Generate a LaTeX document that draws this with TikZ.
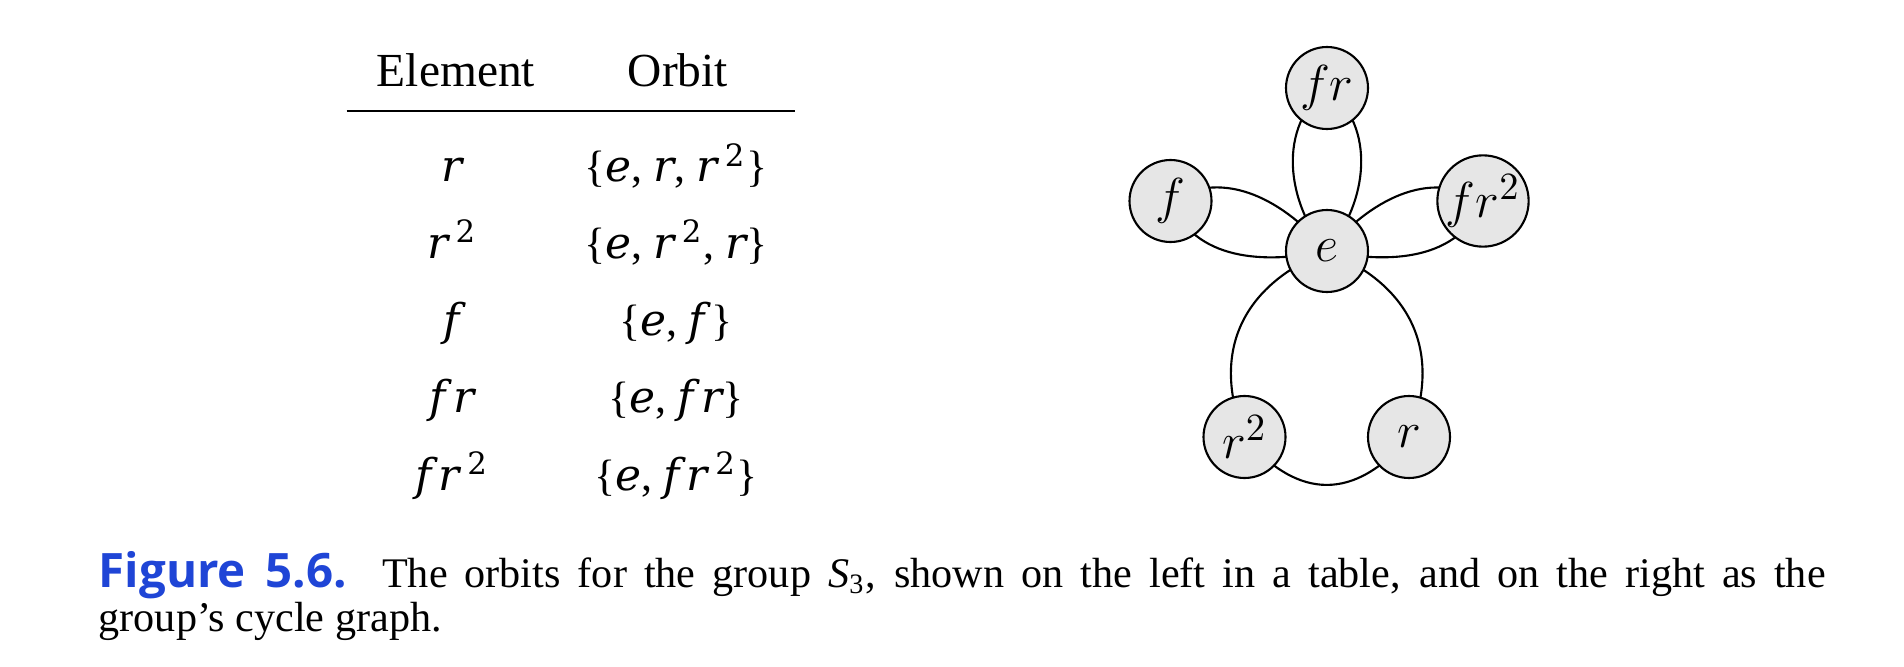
\documentclass[tikz,border=0pt]{standalone}
\usepackage{fontspec}
\setmainfont{Liberation Serif}
\newfontfamily\figfont{Open Sans}
\newfontfamily\tabfont{DejaVu Serif}
\usetikzlibrary{backgrounds}
\usepackage{xcolor}
\definecolor{nodegray}{HTML}{E6E6E6}
\definecolor{figblue}{HTML}{1F45D6}

\newcommand{\gel}[1]{{\tabfont\itshape #1}}
\newcommand{\gsq}{\,{\tabfont\textsuperscript{2}}}

\tikzset{
	elem/.style={circle, draw, fill=nodegray, line width=0.6pt, minimum size=0.82cm, inner sep=0pt, font=\fontsize{15}{17}\selectfont},
	link/.style={line width=0.6pt},
	cell/.style={anchor=base, inner sep=0pt, font=\fontsize{13.5}{16}\selectfont},
	mcell/.style={cell, font=\fontsize{12.5}{16}\selectfont},
}

\begin{document}
\begin{tikzpicture}
	\useasboundingbox (0, 0) rectangle (19.04, 6.66);

	\node[cell] (hEl) at (4.56, 5.793) {Element};
	\node[cell] (hOrb) at (6.78, 5.793) {Orbit};
	\draw[line width=0.4pt] (3.467, 5.55) -- (7.95, 5.55);

	\node[mcell] (el1) at (4.52, 4.843) {\gel{r}};
	\node[mcell] (el2) at (4.52, 4.08) {\gel{r}\gsq};
	\node[mcell] (el3) at (4.52, 3.31) {\gel{f}};
	\node[mcell] (el4) at (4.52, 2.54) {\gel{f\,r}};
	\node[mcell] (el5) at (4.52, 1.76) {\gel{f\,r}\gsq};

	\node[mcell] (orb1) at (6.76, 4.843) {\{\gel{e}, \gel{r}, \gel{r}\gsq\}};
	\node[mcell] (orb2) at (6.76, 4.08) {\{\gel{e}, \gel{r}\gsq, \gel{r}\}};
	\node[mcell] (orb3) at (6.76, 3.31) {\{\gel{e}, \gel{f}\,\}};
	\node[mcell] (orb4) at (6.76, 2.54) {\{\gel{e}, \gel{f\,r}\}};
	\node[mcell] (orb5) at (6.76, 1.76) {\{\gel{e}, \gel{f\,r}\gsq\}};

	\node[elem] (e) at (13.27, 4.15) {$e$};
	\node[elem] (fr) at (13.27, 5.78) {$fr$};
	\node[elem] (f) at (11.705, 4.65) {$f$};
	\node[elem] (frr) at (14.83, 4.65) {$fr^2$};
	\node[elem] (rr) at (12.445, 2.29) {$r^2$};
	\node[elem] (r) at (14.09, 2.29) {$r$};

	\begin{scope}[on background layer]
		\draw[link] (fr.center) to[out=218, in=130] (e.center);
		\draw[link] (fr.center) to[out=322, in=50] (e.center);
		\draw[link] (f.center) to[out=32, in=130] (e.center);
		\draw[link] (f.center) to[out=-68, in=192] (e.center);
		\draw[link] (frr.center) to[out=148, in=50] (e.center);
		\draw[link] (frr.center) to[out=248, in=-12] (e.center);
		\draw[link] (e.center) to[out=202, in=112, looseness=1.15] (rr.center);
		\draw[link] (e.center) to[out=-22, in=68, looseness=1.15] (r.center);
		\draw[link] (rr.center) to[out=-50, in=230, looseness=1.3] (r.center);
	\end{scope}

	\node[anchor=base west, inner sep=0pt, font=\fontsize{12}{12.8}\selectfont] (cap) at (0.98, 0.79) {\parbox[t]{17.27cm}{\noindent{\figfont\bfseries\fontsize{13.5}{14}\selectfont\color{figblue}Figure 5.6.}\hspace{10pt}The orbits for the group \textit{S}\textsubscript{3}, shown on the left in a table, and on the right as the\linebreak group’s cycle graph.}};
\end{tikzpicture}
\end{document}
